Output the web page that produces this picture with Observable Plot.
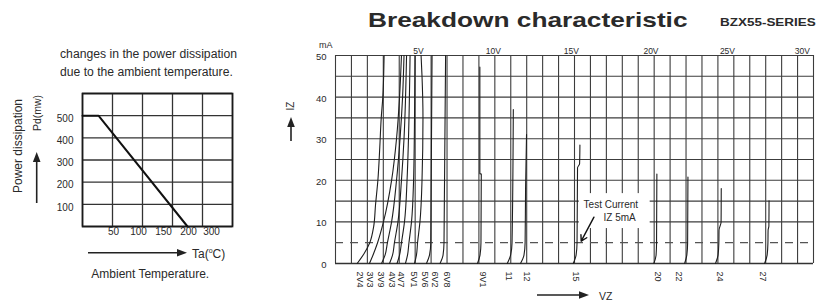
<!DOCTYPE html>
<html><head><meta charset="utf-8">
<script src="https://cdn.jsdelivr.net/npm/d3@7"></script>
<script src="https://cdn.jsdelivr.net/npm/@observablehq/plot@0.6"></script>
<style>
html,body{margin:0;padding:0;background:#fff;}
#root{position:relative;width:817px;height:302px;overflow:hidden;font-family:"Liberation Sans",Arial,sans-serif;color:#2a2a2a;background:#fff;}
#root > svg{position:absolute;top:0;}
.t{position:absolute;white-space:nowrap;line-height:1;}
</style></head><body><div id="root"></div>
<script>
// ---------- Left panel: power derating ----------
const taDerate = [-12, 20, 198];          // ambient temperature, °C
const pdDerate = [500, 500, 0];           // power dissipation, mW
const taGrid = [-12, 48, 108, 168, 228, 288];
const pdGrid = [0, 100, 200, 300, 400, 500, 600];
const pdTicks = [100, 200, 300, 400, 500];
const taTickPos = [50, 100, 150, 200, 246];
const taTickText = ["50", "100", "150", "200", "300"];

// ---------- Right panel: breakdown characteristic (VZ in V, IZ in mA) ----------
const z2V4 = [[1.36,0],[1.78,2.3],[2.15,5],[2.40,9],[2.51,14],[2.66,20],[2.78,28],[2.87,35],[2.97,40],[3.04,48],[3.05,50]];
const z3V3 = [[2.13,0],[2.35,2],[2.64,5],[3.01,10],[3.52,20],[3.83,30],[4.02,40],[4.14,50]];
const z3V9 = [[2.89,0],[3.11,2],[3.26,5],[3.52,10],[3.83,20],[4.05,30],[4.21,40],[4.30,50]];
const z4V3 = [[3.39,0],[3.58,2],[3.70,5],[3.92,10],[4.14,20],[4.30,30],[4.46,50]];
const z4V7 = [[3.86,0],[4.02,2],[4.14,5],[4.33,10],[4.49,20],[4.58,30],[4.68,50]];
const z5V1 = [[4.39,0],[4.52,2],[4.61,5],[4.77,10],[4.90,20],[4.96,35],[4.99,50]];
const z5V6 = [[4.96,0],[5.08,2],[5.15,5],[5.30,10],[5.43,20],[5.49,35],[5.43,45],[5.37,50]];
const z6V2 = [[5.71,0],[5.90,2],[5.98,5],[6.06,50]];
const z6V8 = [[6.56,0],[6.75,2],[6.81,5],[6.91,50]];
const z9V1 = [[8.91,0],[9.07,2],[9.13,5],[9.15,21.5],[9.06,21.6],[9.06,47.2]];
const z11  = [[10.78,0],[10.99,2],[11.08,5],[11.16,37]];
const z12  = [[11.61,0],[11.83,2],[11.90,5],[11.93,18],[11.99,31]];
const z15  = [[14.92,0],[15.10,2],[15.16,5],[15.19,23],[15.32,24],[15.34,28.5]];
const z20  = [[19.98,0],[20.12,2],[20.15,5],[20.17,21.5]];
const z22  = [[21.91,0],[22.05,2],[22.10,5],[22.12,20.8]];
const z24  = [[23.85,0],[24.01,2],[24.06,5],[24.07,8],[24.20,10],[24.21,18]];
const z27  = [[26.93,0],[27.09,2],[27.14,5],[27.15,8],[27.20,9],[27.21,15.1]];

const zenerLabels = ["2V4","3V3","3V9","4V3","4V7","5V1","5V6","6V2","6V8","9V1","11","12","15","20","22","24","27"];
const zenerLabelV = [1.32,1.98,2.64,3.33,3.95,4.71,5.40,6.03,6.78,9.04,10.67,11.8,14.88,20.04,21.34,23.92,26.64];
const zenerCurves = [z2V4,z3V3,z3V9,z4V3,z4V7,z5V1,z5V6,z6V2,z6V8,z9V1,z11,z12,z15,z20,z22,z24,z27];
const vzGrid = d3.range(0, 31);
const izGrid = [0, 10, 15, 20, 25, 30, 35, 40, 45, 50];
const izTest = [5];
const izTicks = [0, 10, 20, 30, 40, 50];
const vzTopText = ["5V","10V","15V","20V","25V","30V"];
const vzTopPos = [5.2, 9.9, 14.8, 19.8, 24.6, 29.3];

// annotation "Test Current IZ 5mA"
const noteBox = [{v1: 15.3, v2: 19.75, i1: 8.4, i2: 16.8}];
const noteArrow = [{v1: 16.22, i1: 11.13, v2: 15.42, i2: 5.36}];
const noteText = [{v: 15.57, i: 14.2, t: "Test Current"}, {v: 16.82, i: 10.94, t: "IZ 5mA"}];

const root = document.getElementById("root");
const FONT = "Liberation Sans, Arial, sans-serif";

// ----- left plot -----
const left = Plot.plot({
  width: 280, height: 302,
  marginLeft: 82, marginRight: 48, marginTop: 93, marginBottom: 76,
  x: {domain: [-12, 288], axis: null},
  y: {domain: [0, 600], axis: null},
  style: {background: "transparent", fontFamily: FONT, color: "#2a2a2a", overflow: "visible"},
  marks: [
    Plot.ruleX(taGrid, {stroke: "#333", strokeWidth: 1.3}),
    Plot.ruleY(pdGrid, {stroke: "#333", strokeWidth: 1.3}),
    Plot.frame({stroke: "#1a1a1a", strokeWidth: 1.7}),
    Plot.line(taDerate.map((t, i) => ({t, p: pdDerate[i]})), {x: "t", y: "p", stroke: "#111", strokeWidth: 2}),
    Plot.text(pdTicks, {frameAnchor: "left", y: d => d, text: d => String(d), textAnchor: "end", dx: -9, dy: 3, fontSize: 10}),
    Plot.text(taTickText, {x: (d, i) => taTickPos[i], frameAnchor: "bottom", dy: 8, fontSize: 10})
  ]
});
left.style.left = "0px";
root.appendChild(left);

// ----- right plot -----
const rows = zenerCurves.flatMap((c, k) => c.map(([v, i]) => ({name: zenerLabels[k], v, i})));
const right = Plot.plot({
  width: 537, height: 302,
  marginLeft: 55, marginRight: 4, marginTop: 55, marginBottom: 39,
  x: {domain: [0, 30], axis: null},
  y: {domain: [0, 50], axis: null},
  style: {background: "transparent", fontFamily: FONT, color: "#2a2a2a", overflow: "visible"},
  marks: [
    Plot.ruleX(vzGrid, {stroke: "#3c3c3c", strokeWidth: 1.1}),
    Plot.ruleY(izGrid, {stroke: "#3c3c3c", strokeWidth: 1.1}),
    Plot.ruleY(izTest, {stroke: "#555", strokeWidth: 1.2, strokeDasharray: "8,7"}),
    Plot.ruleY([0], {stroke: "#333", strokeWidth: 1.5}),
    Plot.rect(noteBox, {x1: "v1", x2: "v2", y1: "i1", y2: "i2", fill: "white"}),
    Plot.line(rows, {x: "v", y: "i", z: "name", stroke: "#1e1e1e", strokeWidth: 1.1, curve: "monotone-y"}),
    Plot.arrow(noteArrow, {x1: "v1", y1: "i1", x2: "v2", y2: "i2", stroke: "#111", strokeWidth: 1.4, headLength: 7}),
    Plot.text(noteText, {x: "v", y: "i", text: "t", textAnchor: "start", fontSize: 10}),
    Plot.text(izTicks, {frameAnchor: "left", y: d => d, text: d => String(d), textAnchor: "end", dx: -9, dy: 1.5, fontSize: 9.5}),
    Plot.text(["mA"], {frameAnchor: "top-left", textAnchor: "end", dx: -3, dy: -14, fontSize: 9}),
    Plot.text(vzTopText, {x: (d, i) => vzTopPos[i], frameAnchor: "top", dy: -8, fontSize: 8.5}),
    Plot.text(zenerLabels, {x: (d, i) => zenerLabelV[i], frameAnchor: "bottom", dy: 8, rotate: 90, textAnchor: "start", fontSize: 9})
  ]
});
right.style.left = "280px";
root.appendChild(right);

// ----- free text -----
function label(html, o) {
  const el = document.createElement("div");
  el.className = "t";
  el.innerHTML = html;
  const f = o.size || 12;
  el.style.fontSize = f + "px";
  el.style.fontWeight = o.weight || 400;
  root.appendChild(el);
  if (o.rotate) {
    el.style.left = o.x + "px";
    el.style.top = o.y + "px";
    el.style.transform = "translate(-50%,-50%) rotate(-90deg)";
    return el;
  }
  el.style.top = (o.y - 0.8465 * f) + "px";
  const w = el.offsetWidth;
  let left = o.x;
  if (o.anchor === "middle") left = o.x - w / 2;
  el.style.left = left + "px";
  if (o.width) {
    el.style.transformOrigin = "0 0";
    el.style.transform = `scaleX(${o.width / w})`;
  }
  return el;
}
label("changes in the power dissipation", {x: 60, y: 58, size: 12, width: 177});
label("due to the ambient temperature.", {x: 60, y: 76, size: 12, width: 173});
label("Power dissipation", {x: 18, y: 146, size: 12, rotate: true});
label("Pd(mw)", {x: 37, y: 113, size: 10.5, rotate: true});
label('Ta(<span style="font-size:7px;position:relative;top:-5px">o</span>C)', {x: 192, y: 258, size: 12});
label("Ambient Temperature.", {x: 150.3, y: 278.5, size: 12, anchor: "middle"});
label("Breakdown characteristic", {x: 368, y: 26.7, size: 21, weight: 700, width: 320});
label("BZX55-SERIES", {x: 720, y: 26.7, size: 11.5, weight: 700, width: 96});
label("IZ", {x: 291, y: 106, size: 10, rotate: true});
label("VZ", {x: 599, y: 300, size: 10.5});

// ----- axis-title arrows (decoration) -----
const ns = "http://www.w3.org/2000/svg";
const deco = document.createElementNS(ns, "svg");
deco.setAttribute("width", 817); deco.setAttribute("height", 302);
deco.style.position = "absolute"; deco.style.left = "0px"; deco.style.top = "0px";
deco.style.pointerEvents = "none";
function arrow(x1, y1, x2, y2) {
  const a = Math.atan2(y2 - y1, x2 - x1), L = 10, W = 3.8;
  const bx = x2 - L * Math.cos(a), by = y2 - L * Math.sin(a);
  const line = document.createElementNS(ns, "line");
  line.setAttribute("x1", x1); line.setAttribute("y1", y1);
  line.setAttribute("x2", bx); line.setAttribute("y2", by);
  line.setAttribute("stroke", "#222"); line.setAttribute("stroke-width", 1.6);
  deco.appendChild(line);
  const p = document.createElementNS(ns, "path");
  const px = -Math.sin(a) * W, py = Math.cos(a) * W;
  p.setAttribute("d", `M${x2},${y2}L${bx + px},${by + py}L${bx - px},${by - py}Z`);
  p.setAttribute("fill", "#222");
  deco.appendChild(p);
}
arrow(36.7, 203, 36.7, 152);
arrow(88, 252.7, 187, 252.7);
arrow(291, 141, 291, 117);
arrow(537, 295, 589, 295);
root.appendChild(deco);
</script></body></html>
